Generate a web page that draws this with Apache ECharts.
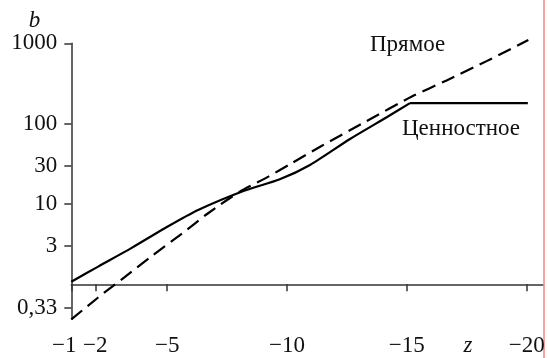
<!DOCTYPE html>
<html><head><meta charset="utf-8">
<script src="https://cdn.jsdelivr.net/npm/echarts@6/dist/echarts.min.js"></script>
<style>html,body{margin:0;padding:0;background:#fff}#c{width:548px;height:358px}</style>
</head><body><div id="c"></div>
<script>
// ---- data ----
const xTickValues = [-1, -2, -5, -10, -15, -20];
const xTickLabels = ['−1', '−2', '−5', '−10', '−15', '−20'];
const yTickValues = [0.33, 3, 10, 30, 100, 1000];
const yTickLabels = ['0,33', '3', '10', '30', '100', '1000'];

const seriesNames = ['Ценностное', 'Прямое'];
// "Ценностное" (solid); the last two points form the flat part after the kink
const zValue = [-1, -2.12, -3.52, -4.9, -6.29, -8.24, -9.7, -10.96, -12.63, -14.16, -15.13, -20.05];
const bValue = [0.84, 1.44, 2.8, 4.98, 8.4, 14.7, 20.3, 30.6, 64.4, 120, 180, 180];
// "Прямое" (dashed)
const zDirect = [-1, -2.12, -3.24, -4.42, -5.6, -6.71, -8.03, -9.22, -10.19, -11.44, -13.31, -15.21, -16.66, -18.33, -20.07];
const bDirect = [0.22, 0.48, 1.0, 2.18, 4.23, 7.66, 14.2, 21.9, 32.1, 52.7, 107, 217, 345, 600, 1100];

// ---- y scale of the original: logarithmic, compressed below 3 ----
const L3 = Math.log10(3), K = 0.806;
function toAxis(b) { const l = Math.log10(b); return b >= 3 ? l : L3 - (L3 - l) * K; }
const yTickAxis = yTickValues.map(toAxis);
function yLabel(v) {
  let best = 0;
  yTickAxis.forEach((t, i) => { if (Math.abs(t - v) < Math.abs(yTickAxis[best] - v)) best = i; });
  return yTickLabels[best];
}
function xLabel(v) {
  const i = xTickValues.findIndex(t => Math.abs(t - v) < 1e-6);
  const s = i >= 0 ? xTickLabels[i] : String(v);
  return i === 0 ? '{first|' + s + '}' : s;
}

const solidPts = zValue.map((z, i) => [z, toAxis(bValue[i])]);
const kink = solidPts.length - 2;
const dashedPts = zDirect.map((z, i) => [z, toAxis(bDirect[i])]);

const FONT = 'Liberation Serif';
const FS = 23;
const solidStyle = { color: '#000', width: 2.2 };
const chart = echarts.init(document.getElementById('c'), null, { renderer: 'canvas' });
chart.setOption({
  animation: false,
  backgroundColor: '#fff',
  grid: { left: 71.3, right: 5.3, top: 43.3, bottom: 38.7, containLabel: false, outerBoundsMode: 'none' },
  xAxis: {
    type: 'value', inverse: true, min: -20.67, max: -1,
    name: 'z', nameLocation: 'middle', nameGap: 15, nameMoveOverlap: false,
    nameTextStyle: { fontFamily: FONT, fontStyle: 'italic', fontSize: FS, color: '#111', padding: [0, 0, 0, 322] },
    axisLine: { show: true, lineStyle: { color: '#333', width: 1.5 } },
    axisTick: { show: true, inside: false, length: 7, customValues: xTickValues, lineStyle: { color: '#333', width: 1.5 } },
    axisLabel: {
      customValues: xTickValues, margin: 15, formatter: xLabel, hideOverlap: false,
      fontFamily: FONT, fontSize: FS, color: '#111',
      rich: { first: { fontFamily: FONT, fontSize: FS, color: '#111', padding: [0, 14, 0, 0] } }
    },
    splitLine: { show: false }
  },
  yAxis: {
    type: 'value', min: -0.436, max: 3,
    name: 'b', nameLocation: 'end', nameGap: 11, nameMoveOverlap: false,
    nameTextStyle: { fontFamily: FONT, fontStyle: 'italic', fontSize: FS, color: '#111', align: 'right', verticalAlign: 'bottom', padding: [0, 31, 0, 0] },
    axisLine: { show: true, lineStyle: { color: '#333', width: 1.5 } },
    axisTick: { show: true, inside: false, length: 7, customValues: yTickAxis, lineStyle: { color: '#333', width: 1.5 } },
    axisLabel: { customValues: yTickAxis, margin: 14, formatter: yLabel, fontFamily: FONT, fontSize: FS, color: '#111' },
    splitLine: { show: false }
  },
  series: [
    {
      name: seriesNames[0], type: 'line', symbol: 'none', clip: false, smooth: 0.25,
      data: solidPts.slice(0, kink + 1), lineStyle: solidStyle
    },
    {
      name: seriesNames[0], type: 'line', symbol: 'none', clip: false,
      data: solidPts.slice(kink), lineStyle: solidStyle
    },
    {
      name: seriesNames[1], type: 'line', symbol: 'none', clip: false, smooth: 0.25,
      data: dashedPts, lineStyle: { color: '#000', width: 2.2, type: [14, 7] }
    }
  ],
  graphic: [
    { type: 'rect', right: 3, top: 0, shape: { width: 2, height: 358 }, style: { fill: '#f4a4a4' }, silent: true },
    { type: 'text', left: 370, top: 33, style: { text: seriesNames[1], font: '23px "Liberation Serif"', fill: '#111' } },
    { type: 'text', left: 402, top: 117, style: { text: seriesNames[0], font: '23px "Liberation Serif"', fill: '#111' } }
  ]
});
</script>
</body></html>
